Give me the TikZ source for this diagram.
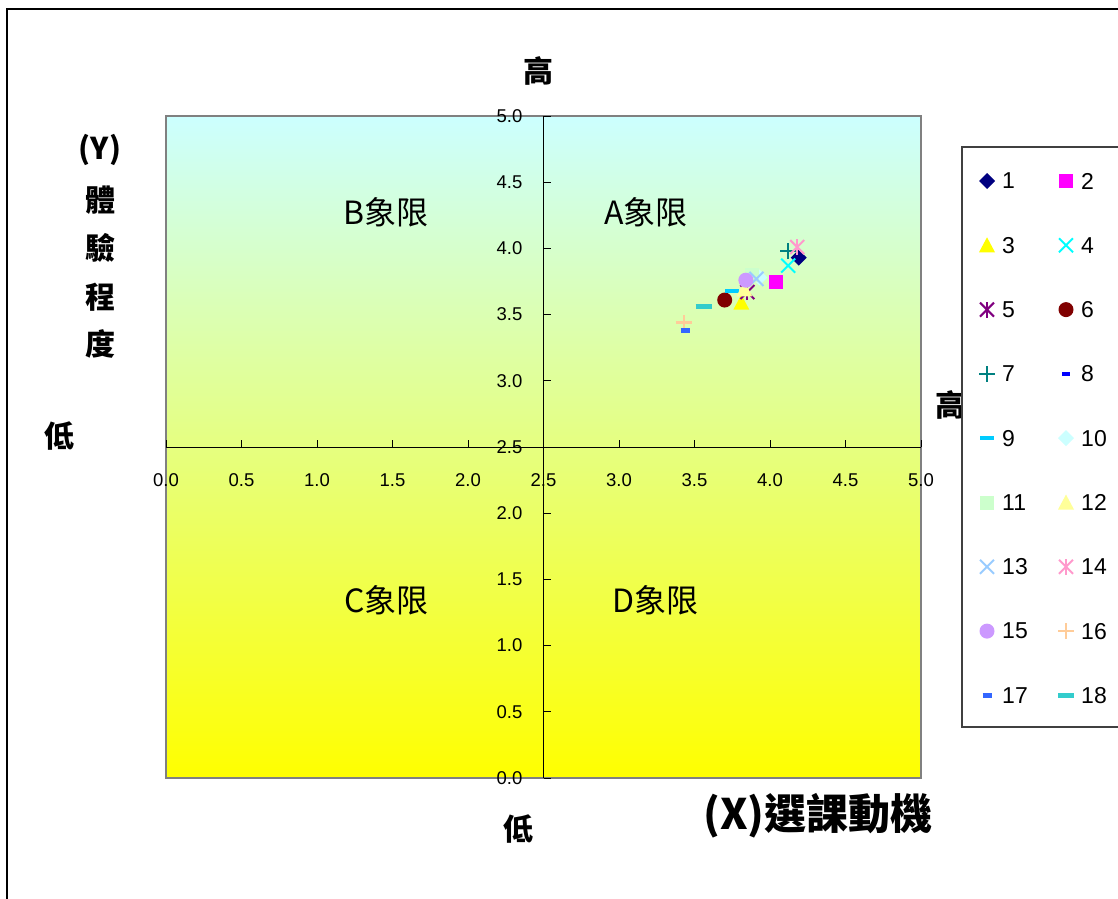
\documentclass[tikz,border=0pt]{standalone}
\usepackage{fontspec}
\setmainfont{Liberation Sans}
\newfontfamily\cjk{Noto Sans CJK TC}

\definecolor{s1}{HTML}{000080}
\definecolor{s2}{HTML}{FF00FF}
\definecolor{s3}{HTML}{FFFF00}
\definecolor{s4}{HTML}{00FFFF}
\definecolor{s5}{HTML}{800080}
\definecolor{s6}{HTML}{800000}
\definecolor{s7}{HTML}{008080}
\definecolor{s8}{HTML}{0000FF}
\definecolor{s9}{HTML}{00CCFF}
\definecolor{s10}{HTML}{CCFFFF}
\definecolor{s11}{HTML}{CCFFCC}
\definecolor{s12}{HTML}{FFFF99}
\definecolor{s13}{HTML}{99CCFF}
\definecolor{s14}{HTML}{FF99CC}
\definecolor{s15}{HTML}{CC99FF}
\definecolor{s16}{HTML}{FFCC99}
\definecolor{s17}{HTML}{3366FF}
\definecolor{s18}{HTML}{33CCCC}
\definecolor{cielo}{HTML}{CCFFFF}
\definecolor{giallo}{HTML}{FFFF00}

\newcommand{\rombo}[2]{ % #1 nome del punto, #2 colore
  \fill[#2] ([yshift=8pt]#1) -- ([xshift=8pt]#1) -- ([yshift=-8pt]#1) -- ([xshift=-8pt]#1) -- cycle;
}
\newcommand{\quadro}[2]{ % #1 nome del punto, #2 colore
  \fill[#2] ([shift={(-7pt,-7pt)}]#1) rectangle ([shift={(7pt,7pt)}]#1);
}
\newcommand{\triangolo}[2]{
  \fill[#2] ([yshift=8pt]#1) -- ([shift={(8pt,-7pt)}]#1) -- ([shift={(-8pt,-7pt)}]#1) -- cycle;
}
\newcommand{\ics}[2]{
  \draw[#2,line width=2pt] ([shift={(-7pt,-7pt)}]#1) -- ([shift={(7pt,7pt)}]#1)
                           ([shift={(-7pt,7pt)}]#1) -- ([shift={(7pt,-7pt)}]#1);
}
\newcommand{\stella}[2]{
  \ics{#1}{#2}
  \draw[#2,line width=2pt] ([yshift=-8pt]#1) -- ([yshift=8pt]#1);
}
\newcommand{\pallino}[2]{
  \fill[#2] (#1) circle (7.5pt);
}
\newcommand{\croce}[2]{
  \draw[#2,line width=2.5pt] ([xshift=-8pt]#1) -- ([xshift=8pt]#1)
                             ([yshift=-8pt]#1) -- ([yshift=8pt]#1);
}
\newcommand{\trattino}[3]{ % #3 mezza lunghezza
  \draw[#2,line width=4.5pt] ([xshift=-#3]#1) -- ([xshift=#3]#1);
}

\tikzset{
  /pgf/number format/assume math mode=true,
  ticklab/.style={font=\fontsize{18.5}{20}\selectfont, inner sep=0pt},
  legtext/.style={font=\fontsize{23}{25}\selectfont, inner sep=0pt, anchor=west},
  lato/.style={font=\cjk\bfseries\fontsize{30}{32}\selectfont, inner sep=0pt},
  quadrante/.style={font=\cjk\fontsize{32}{34}\selectfont, inner sep=0pt},
  titolox/.style={font=\cjk\bfseries\fontsize{42}{44}\selectfont, inner sep=0pt},
  bordo/.style={draw=gray, line width=2pt},
}

\begin{document}
\begin{tikzpicture}[x=1pt, y=-1pt]
    \clip (0,0) rectangle (1118,898);
    \fill[white] (0,0) rectangle (1118,898);
    \draw[line width=1.5pt] (7,9) rectangle (1200,1000);

    % area del grafico, unita' dei dati
    \begin{scope}[shift={(166,778)}, x=151pt, y=132.4pt]
        \shade[top color=cielo, bottom color=giallo] (0,0) rectangle (5,5);
        \draw[bordo] (0,0) rectangle (5,5);
        \draw[line width=0.8pt] (0,2.5) -- (5,2.5);
        \draw[line width=0.8pt] (2.5,0) -- (2.5,5);
        \foreach \i in {0,...,10} {
            \pgfmathsetmacro\v{\i*0.5}
            \draw[line width=0.8pt] (\v,2.5) -- ++(0,7pt);
            \draw[line width=0.8pt] (2.5,\v) -- ++(7pt,0);
            \node[ticklab] (xl\i) at ([yshift=-33pt]\v,2.5) {\pgfmathprintnumber[fixed,fixed zerofill,precision=1]{\v}};
            \node[ticklab, anchor=east] (yl\i) at ([xshift=-21pt]2.5,\v) {\pgfmathprintnumber[fixed,fixed zerofill,precision=1]{\v}};
        }

        \node[quadrante] (qa) at (3.18,4.27) {A象限};
        \node[quadrante] (qb) at (1.46,4.27) {B象限};
        \node[quadrante] (qc) at (1.46,1.34) {C象限};
        \node[quadrante] (qd) at (3.24,1.34) {D象限};

        \coordinate (p1) at (4.19,3.93);
        \coordinate (p2) at (4.04,3.75);
        \coordinate (p3) at (3.81,3.59);
        \coordinate (p4) at (4.12,3.87);
        \coordinate (p5) at (3.85,3.67);
        \coordinate (p6) at (3.70,3.61);
        \coordinate (p7) at (4.12,3.98);
        \coordinate (p8) at (3.44,3.38);
        \coordinate (p9) at (3.75,3.68);
        \coordinate (p10) at (3.93,3.78);
        \coordinate (p11) at (3.88,3.80);
        \coordinate (p12) at (3.83,3.69);
        \coordinate (p13) at (3.91,3.77);
        \coordinate (p14) at (4.18,4.01);
        \coordinate (p15) at (3.84,3.76);
        \coordinate (p16) at (3.43,3.44);
        \coordinate (p17) at (3.44,3.38);
        \coordinate (p18) at (3.56,3.56);
    \end{scope}

    % etichette degli assi
    \node[lato] (alto) at (538,71) {高};
    \node[lato] (basso) at (518,829) {低};
    \node[lato] (sinistra) at (59,436) {低};
    \node[lato] (destra) at (950,405) {高};
    \node[lato] (ylab) at (100,150) {(Y)};
    \node[lato] (y1) at (100,200) {體};
    \node[lato] (y2) at (100,248) {驗};
    \node[lato] (y3) at (100,297) {程};
    \node[lato] (y4) at (100,344) {度};
    \node[titolox] (xlab) at (818,816) {(X)選課動機};

    % legenda
    \draw[fill=white, draw=black!75, line width=1.2pt] (962,147) rectangle (1140,727);
    \foreach \k in {1,...,18} {
        \pgfmathsetmacro\lx{mod(\k-1,2)==0 ? 987 : 1066}
        \pgfmathsetmacro\ly{181+64.3*floor((\k-1)/2)}
        \coordinate (l\k) at (\lx,\ly);
        \node[legtext] (n\k) at (\lx+15,\ly) {\k};
    }

    \rombo{l1}{s1}        \rombo{p1}{s1}
    \quadro{l2}{s2}       \quadro{p2}{s2}
    \triangolo{l3}{s3}    \triangolo{p3}{s3}
    \ics{l4}{s4}          \ics{p4}{s4}
    \stella{l5}{s5}       \stella{p5}{s5}
    \pallino{l6}{s6}      \pallino{p6}{s6}
    \croce{l7}{s7}        \croce{p7}{s7}
    \trattino{l8}{s8}{4pt}     \trattino{p8}{s8}{4pt}
    \trattino{l9}{s9}{7pt}     \trattino{p9}{s9}{7pt}
    \rombo{l10}{s10}      \rombo{p10}{s10}
    \quadro{l11}{s11}     \quadro{p11}{s11}
    \triangolo{l12}{s12}  \triangolo{p12}{s12}
    \ics{l13}{s13}        \ics{p13}{s13}
    \stella{l14}{s14}     \stella{p14}{s14}
    \pallino{l15}{s15}    \pallino{p15}{s15}
    \croce{l16}{s16}      \croce{p16}{s16}
    \trattino{l17}{s17}{4.5pt} \trattino{p17}{s17}{4.5pt}
    \trattino{l18}{s18}{8pt}   \trattino{p18}{s18}{8pt}
\end{tikzpicture}
\end{document}
